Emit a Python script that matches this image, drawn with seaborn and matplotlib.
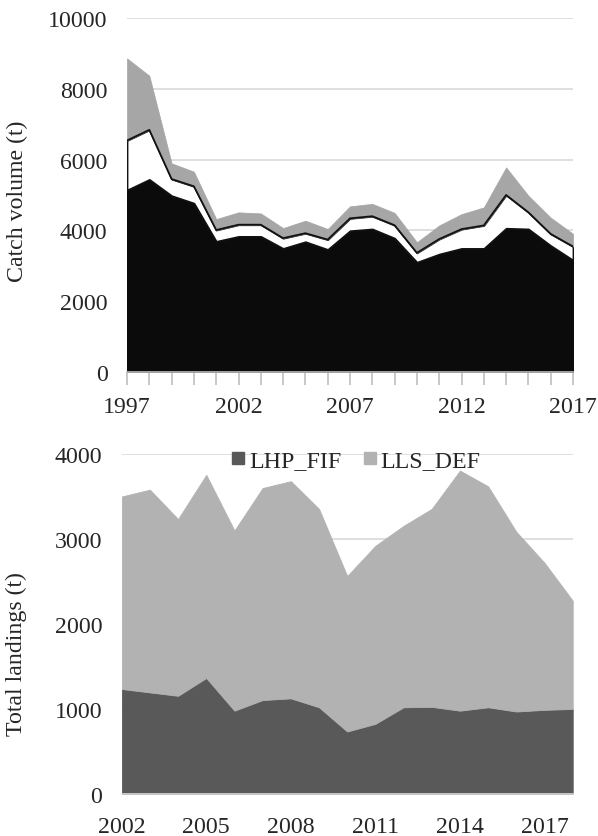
import matplotlib
matplotlib.use("Agg")
import matplotlib.pyplot as plt
from matplotlib.lines import Line2D
import pandas as pd
import seaborn as sns

# Catch volume by component (t), stacked
catch_years = list(range(1997, 2018))
catch_main = [5140, 5440, 4980, 4770, 3690, 3830, 3830, 3490, 3680, 3460, 3990,
              4040, 3780, 3100, 3330, 3490, 3490, 4060, 4040, 3570, 3160]
catch_second = [1400, 1400, 470, 475, 320, 330, 330, 290, 240, 280, 350,
                360, 365, 265, 425, 545, 650, 940, 470, 330, 385]
catch_other = [2320, 1530, 445, 415, 310, 350, 320, 285, 355, 300, 340,
               350, 350, 300, 385, 425, 510, 780, 470, 460, 360]
catch_xticks = [1997, 2002, 2007, 2012, 2017]
catch_yticks = [0, 2000, 4000, 6000, 8000, 10000]

# Total landings by fleet segment (t), stacked
landing_years = list(range(2002, 2019))
lhp_fif = [1235, 1195, 1155, 1365, 980, 1105, 1125, 1020, 735, 825, 1020,
           1025, 980, 1020, 970, 990, 1000]
lls_def = [2265, 2385, 2080, 2390, 2120, 2495, 2555, 2335, 1830, 2095, 2135,
           2330, 2825, 2600, 2115, 1730, 1275]
landing_labels = ["LHP_FIF", "LLS_DEF"]
landing_xticks = [2002, 2005, 2008, 2011, 2014, 2017]
landing_yticks = [0, 1000, 2000, 3000, 4000]

sns.set_theme(style="whitegrid")
plt.rcParams["font.family"] = ["Liberation Serif", "DejaVu Serif"]
FS = 17.2
plt.rcParams["font.size"] = FS

GRID = "#d9d9d9"
AXIS = "#bfbfbf"

fig = plt.figure(figsize=(5.98, 8.37), dpi=100)
ax1 = fig.add_axes([0.2124, 0.5544, 0.7458, 0.4229])
ax2 = fig.add_axes([0.2035, 0.0502, 0.7542, 0.4062])

# ---- top panel ----
catch = pd.DataFrame({"year": catch_years, "main": catch_main,
                      "second": catch_second, "other": catch_other})
top_colors = ["#0b0b0b", "#ffffff", "#a6a6a6"]
polys = ax1.stackplot(catch["year"], catch["main"], catch["second"], catch["other"],
                      colors=top_colors, zorder=2)
polys[0].set_edgecolor(top_colors[0])
polys[0].set_linewidth(0.8)
polys[1].set_edgecolor("#111111")
polys[1].set_linewidth(1.3)
polys[2].set_edgecolor(top_colors[2])
polys[2].set_linewidth(0.5)
catch["white_top"] = catch["main"] + catch["second"]
sns.lineplot(data=catch, x="year", y="white_top", ax=ax1, color="#111111",
             linewidth=1.3, zorder=3)

ax1.set_xlim(1997, 2017)
ax1.set_ylim(0, 10000)
ax1.set_xticks(catch_years, minor=True)
ax1.set_xticks(catch_xticks)
ax1.set_xticklabels([str(y) for y in catch_xticks])
ax1.set_yticks(catch_yticks)
ax1.set_yticklabels([str(v) for v in catch_yticks])
ax1.set_ylabel("Catch volume (t)", fontsize=FS)
ax1.set_xlabel("")
ax1.yaxis.set_label_coords(-0.222, 0.484)
ax1.grid(axis="x", visible=False)
ax1.grid(axis="y", color=GRID, linewidth=1.2)
ax1.set_axisbelow(True)
for s in ["top", "right", "left"]:
    ax1.spines[s].set_visible(False)
ax1.spines["bottom"].set_color(AXIS)
ax1.spines["bottom"].set_linewidth(1.2)
ax1.spines["bottom"].set_zorder(4)
ax1.tick_params(axis="x", which="both", direction="out", length=9, width=1.2,
                color=AXIS, pad=8, labelsize=FS, bottom=True)
ax1.tick_params(axis="y", length=0, pad=14, labelsize=FS)

# ---- bottom panel ----
bottom_colors = ["#595959", "#b2b2b2"]
bpolys = ax2.stackplot(landing_years, lhp_fif, lls_def,
                       colors=bottom_colors, labels=landing_labels, zorder=2)
for p, c in zip(bpolys, bottom_colors):
    p.set_edgecolor(c)
    p.set_linewidth(0.6)
ax2.set_xlim(2002, 2018)
ax2.set_ylim(0, 4000)
ax2.set_xticks(landing_xticks)
ax2.set_xticklabels([str(y) for y in landing_xticks])
ax2.set_yticks(landing_yticks)
ax2.set_yticklabels([str(v) for v in landing_yticks])
ax2.set_ylabel("Total landings (t)", fontsize=FS)
ax2.yaxis.set_label_coords(-0.21, 0.415)
ax2.grid(axis="x", visible=False)
ax2.grid(axis="y", color=GRID, linewidth=1.2)
ax2.set_axisbelow(True)
for s in ["top", "right", "left"]:
    ax2.spines[s].set_visible(False)
ax2.spines["bottom"].set_color(GRID)
ax2.spines["bottom"].set_linewidth(1.2)
ax2.spines["bottom"].set_zorder(4)
ax2.tick_params(axis="x", length=0, pad=16, labelsize=FS)
ax2.tick_params(axis="y", length=0, pad=14, labelsize=FS)

handles = [Line2D([], [], linestyle="none", marker="s", markersize=8.5,
                  markerfacecolor=c, markeredgecolor=c)
           for c in bottom_colors]
fig.legend(handles, landing_labels, loc="center", bbox_to_anchor=(0.595, 0.449),
           ncol=2, frameon=False, fontsize=FS, handlelength=0.6,
           handletextpad=0.15, columnspacing=0.9, borderpad=0.1)

fig.savefig("out.png", dpi=100)
